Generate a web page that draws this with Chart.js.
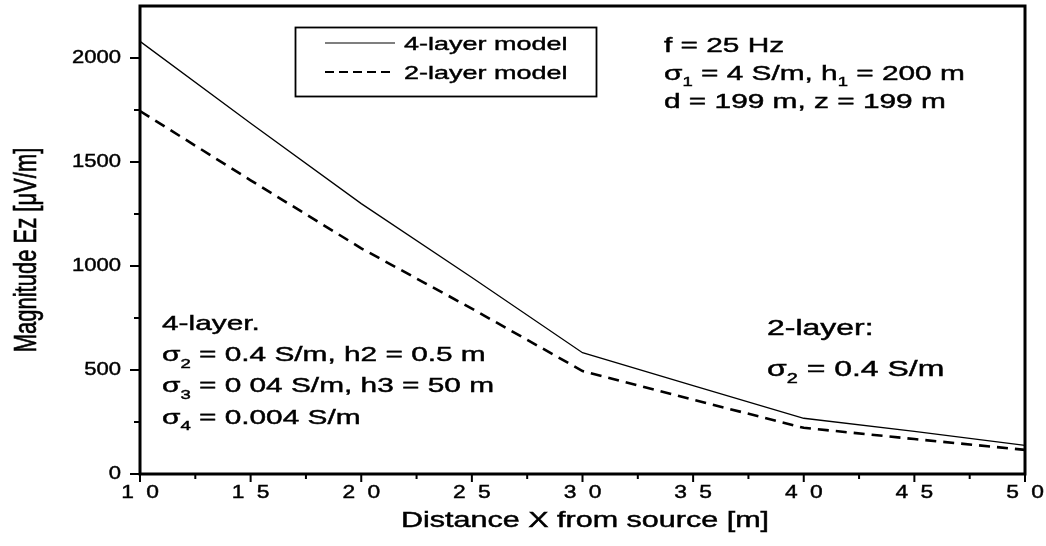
<!DOCTYPE html>
<html>
<head>
<meta charset="utf-8">
<script src="https://cdn.jsdelivr.net/npm/chart.js@4"></script>
<style>
  body { margin: 0; background: #fff; }
  #wrap { width: 1046px; height: 546px; }
</style>
</head>
<body>
<div id="wrap"><canvas id="chart"></canvas></div>
<script>
// values
const distance = [10, 15, 20, 25, 30, 35, 40, 45, 50]
const fourLayer = [2080, 1686, 1300, 945, 583, 425, 268, 205, 138]
const twoLayer = [1745, 1412, 1085, 795, 495, 357, 222, 168, 116]

const xTicks = [10, 15, 20, 25, 30, 35, 40, 45, 50]
const xTickLabels = ['1 0', '1 5', '2 0', '2 5', '3 0', '3 5', '4 0', '4 5', '5 0']
const xMinor = [12.5, 17.5, 22.5, 27.5, 32.5, 37.5, 42.5, 47.5]
const yTicks = [0, 500, 1000, 1500, 2000]
const yTickLabels = ['0', '500', '1000', '1500', '2000']
const yMinor = [250, 750, 1250, 1750]

// the scan is stretched sideways, so text is drawn stretched too
const SX = 1.42
const FONT = '"Liberation Sans", Arial, sans-serif'

function ink(ctx, t, x, y) {
  ctx.fillText(t, x, y)
  ctx.strokeText(t, x, y)
}

function rich(ctx, parts, x, y, size) {
  ctx.save()
  ctx.translate(x, y)
  ctx.scale(SX, 1)
  ctx.textAlign = 'left'
  ctx.textBaseline = 'alphabetic'
  ctx.lineWidth = 0.45
  let cx = 0
  parts.forEach(p => {
    const sub = Array.isArray(p)
    const t = sub ? p[0] : p
    ctx.font = (sub ? Math.round(size * 0.62) : size) + 'px ' + FONT
    ink(ctx, t, cx, sub ? size * 0.3 : 0)
    cx += ctx.measureText(t).width
  })
  ctx.restore()
}

function label(ctx, str, x, y, size, sx, align, base, spacing) {
  ctx.save()
  ctx.translate(x, y)
  ctx.scale(sx, 1)
  ctx.font = size + 'px ' + FONT
  ctx.textAlign = align
  ctx.textBaseline = base
  ctx.lineWidth = 0.45
  if (spacing) ctx.letterSpacing = spacing + 'px'
  ink(ctx, str, spacing ? spacing / 2 : 0, 0)
  ctx.restore()
}

const topNote = [
  ['f = 25 Hz'],
  ['σ', ['1'], ' = 4 S/m, h', ['1'], ' = 200 m'],
  ['d = 199 m, z = 199 m']
]
const leftNote = [
  ['4-layer.'],
  ['σ', ['2'], ' = 0.4 S/m, h2 = 0.5 m'],
  ['σ', ['3'], ' = 0 04 S/m, h3 = 50 m'],
  ['σ', ['4'], ' = 0.004 S/m']
]
const rightNote = [
  ['2-layer:'],
  ['σ', ['2'], ' = 0.4 S/m']
]

const frame = {
  id: 'frame',
  afterDraw(chart) {
    const ctx = chart.ctx
    const a = chart.chartArea
    const xs = chart.scales.x
    const ys = chart.scales.y
    ctx.save()
    ctx.fillStyle = '#000'
    ctx.strokeStyle = '#000'

    // ticks
    ctx.lineWidth = 2
    ctx.beginPath()
    xTicks.forEach(v => { const p = xs.getPixelForValue(v); ctx.moveTo(p, a.bottom); ctx.lineTo(p, a.bottom + 8) })
    xMinor.forEach(v => { const p = xs.getPixelForValue(v); ctx.moveTo(p, a.bottom); ctx.lineTo(p, a.bottom + 5) })
    yTicks.forEach(v => { const p = ys.getPixelForValue(v); ctx.moveTo(a.left, p); ctx.lineTo(a.left - 10, p) })
    yMinor.forEach(v => { const p = ys.getPixelForValue(v); ctx.moveTo(a.left, p); ctx.lineTo(a.left - 6, p) })
    ctx.stroke()

    // box
    ctx.lineWidth = 3
    ctx.strokeRect(a.left, a.top, a.right - a.left, a.bottom - a.top)

    // tick labels
    xTicks.forEach((v, i) => label(ctx, xTickLabels[i], xs.getPixelForValue(v), 498, 19, 1.2, 'center', 'alphabetic', 2.5))
    yTicks.forEach((v, i) => label(ctx, yTickLabels[i], 121, ys.getPixelForValue(v), 19, 1.16, 'right', 'middle'))

    // axis titles
    label(ctx, 'Distance X from source [m]', 585, 527, 21.5, SX, 'center', 'alphabetic')
    ctx.save()
    ctx.translate(36, 250)
    ctx.scale(SX, 1)
    ctx.rotate(-Math.PI / 2)
    ctx.font = '22px ' + FONT
    ctx.textAlign = 'center'
    ctx.lineWidth = 0.45
    ink(ctx, 'Magnitude Ez [μV/m]', 0, 0)
    ctx.restore()

    // legend
    ctx.lineWidth = 1.8
    ctx.strokeRect(295.5, 27.5, 301, 69)
    chart.data.datasets.forEach((ds, i) => {
      const y = 43 + i * 29
      ctx.save()
      ctx.lineWidth = i ? 1.8 : 1.2
      ctx.setLineDash(i ? [9, 5] : [])
      ctx.beginPath()
      ctx.moveTo(325, y)
      ctx.lineTo(395, y)
      ctx.stroke()
      ctx.restore()
      rich(ctx, [ds.label], 404, y + 7, 19)
    })

    // notes
    topNote.forEach((l, i) => rich(ctx, l, 664, 52 + i * 28, 21))
    leftNote.forEach((l, i) => rich(ctx, l, 162, 330 + i * 31.2, 21))
    rightNote.forEach((l, i) => rich(ctx, l, 767, 335 + i * 41, 22.5))
    ctx.restore()
  }
}

new Chart(document.getElementById('chart'), {
  type: 'line',
  data: {
    datasets: [
      {
        label: '4-layer model',
        data: distance.map((x, i) => ({ x, y: fourLayer[i] })),
        borderColor: '#000',
        borderWidth: 1.3,
        pointRadius: 0,
        fill: false
      },
      {
        label: '2-layer model',
        data: distance.map((x, i) => ({ x, y: twoLayer[i] })),
        borderColor: '#000',
        borderWidth: 2.6,
        borderDash: [11, 7],
        pointRadius: 0,
        fill: false
      }
    ]
  },
  options: {
    responsive: true,
    maintainAspectRatio: false,
    animation: false,
    layout: { padding: { top: 6, right: 21, left: 0, bottom: 0 } },
    plugins: { legend: { display: false }, tooltip: { enabled: false } },
    scales: {
      x: {
        type: 'linear', min: 10, max: 50,
        grid: { display: false }, border: { display: false }, ticks: { display: false },
        afterFit: s => { s.height = 72 }
      },
      y: {
        type: 'linear', min: 0, max: 2250,
        grid: { display: false }, border: { display: false }, ticks: { display: false },
        afterFit: s => { s.width = 140 }
      }
    }
  },
  plugins: [frame]
})
</script>
</body>
</html>
